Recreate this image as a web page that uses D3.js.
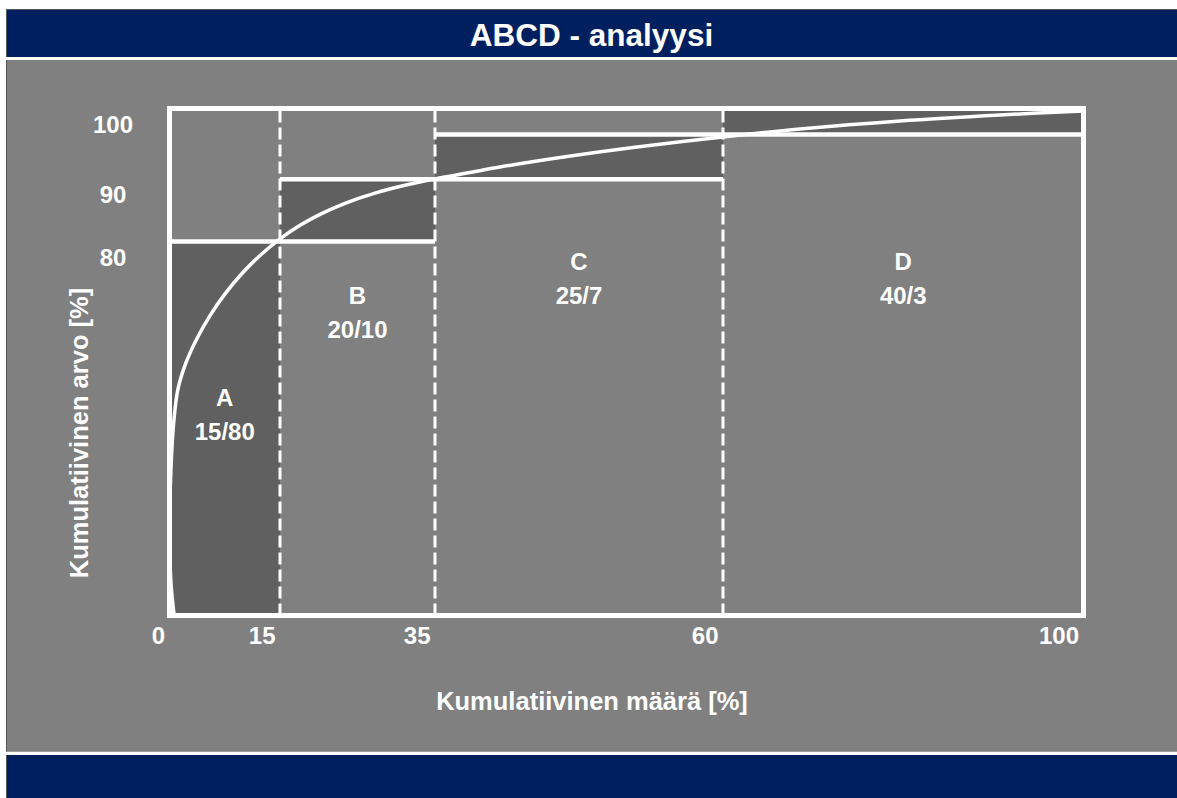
<!DOCTYPE html>
<html lang="fi">
<head>
<meta charset="utf-8">
<title>ABCD - analyysi</title>
<script src="https://cdn.jsdelivr.net/npm/d3@7"></script>
<style>
  html, body { margin: 0; padding: 0; background: #ffffff; }
  svg { display: block; }
  text { font-family: "Liberation Sans", Arial, Helvetica, sans-serif; font-weight: bold; fill: #ffffff; }
</style>
</head>
<body>
<div id="chart"></div>
<script>
// ABC(D) classes: share of items and share of value, in percent
const categories = ["A", "B", "C", "D"];
const itemShare  = [15, 20, 25, 40];
const valueShare = [80, 10, 7, 3];

// Axis tick labels
const xTicks = [0, 15, 35, 60, 100];
const yTicks = [80, 90, 100];

// Cumulative value curve (cumulative item % -> cumulative value %)
const curveItems = [0.61, 0.2, 0, 0.14, 0.54, 1.15, 2.24, 3.73, 5.5, 7.53, 9.84, 12.29, 15,
                    17.58, 20.16, 23.39, 27.26, 31.13, 35, 38.04, 40.64, 46.46, 52.19, 60,
                    68.54, 79.64, 90.74, 100];
const curveValue = [0.32, 6.95, 18.29, 28.98, 40.75, 48.45, 54.07, 59.25, 64.13, 68.79, 73.16, 77.01, 80.42,
                    82.6, 84.37, 86.14, 87.78, 89.04, 90.05, 91.06, 91.92, 93.56, 94.97, 96.61,
                    97.63, 98.56, 99.25, 99.71];

const W = 1177, H = 798;
const NAVY = "#001f5f", GREY = "#808080", DARK = "#606060", WHITE = "#ffffff";

const cumItems = [0, ...d3.cumsum(itemShare)];
const cumValue = [0, ...d3.cumsum(valueShare)];

// Piecewise scales: each class boundary has its own position on the frame
const x = d3.scaleLinear().domain(cumItems).range([169.5, 280, 435, 723, 1083.5]);
const y = d3.scaleLinear().domain(cumValue).range([615.5, 241.5, 179.3, 134.5, 108.5]);

const svg = d3.select("#chart").append("svg")
  .attr("width", W).attr("height", H)
  .attr("viewBox", `0 0 ${W} ${H}`);

// Slide frame: title bar, panel and footer bar
svg.append("rect").attr("x", 6).attr("y", 9).attr("width", W - 6).attr("height", H - 9).attr("fill", "#555555");
svg.append("rect").attr("x", 7).attr("y", 10).attr("width", W - 7).attr("height", 47).attr("fill", NAVY);
svg.append("rect").attr("x", 6).attr("y", 57).attr("width", W - 6).attr("height", 3).attr("fill", WHITE);
svg.append("rect").attr("x", 7).attr("y", 60).attr("width", W - 7).attr("height", 691.7).attr("fill", GREY);
svg.append("rect").attr("x", 6).attr("y", 751.7).attr("width", W - 6).attr("height", 3.3).attr("fill", WHITE);
svg.append("rect").attr("x", 7).attr("y", 755).attr("width", W - 7).attr("height", H - 755).attr("fill", NAVY);

svg.append("text")
  .attr("x", 591.5).attr("y", 45.5)
  .attr("text-anchor", "middle")
  .style("font-size", "31.5px")
  .text("ABCD - analyysi");

const classes = categories.map((c, i) => ({
  name: c,
  items: itemShare[i],
  value: valueShare[i],
  x0: cumItems[i], x1: cumItems[i + 1],
  v0: cumValue[i], v1: cumValue[i + 1],
  xEnd: cumItems[Math.min(i + 2, cumItems.length - 1)]
}));

// Dark class blocks
svg.append("g").selectAll("rect").data(classes).join("rect")
  .attr("x", d => x(d.x0))
  .attr("y", d => y(d.v1))
  .attr("width", d => x(d.x1) - x(d.x0))
  .attr("height", d => y(d.v0) - y(d.v1))
  .attr("fill", DARK);

// Dashed class boundaries
svg.append("g").selectAll("line").data(cumItems.slice(1, -1)).join("line")
  .attr("x1", d => x(d)).attr("x2", d => x(d))
  .attr("y1", y(0)).attr("y2", y(100))
  .attr("stroke", WHITE).attr("stroke-width", 3)
  .attr("stroke-dasharray", "12 5");

// Step levels: each cumulative level runs across its class and the next one
svg.append("g").selectAll("line").data(classes.slice(0, -1)).join("line")
  .attr("x1", d => x(d.x0)).attr("x2", d => x(d.xEnd))
  .attr("y1", d => y(d.v1)).attr("y2", d => y(d.v1))
  .attr("stroke", WHITE).attr("stroke-width", 4.5);

// Plot frame
svg.append("rect")
  .attr("x", x(0)).attr("y", y(100))
  .attr("width", x(100) - x(0)).attr("height", y(0) - y(100))
  .attr("fill", "none").attr("stroke", WHITE).attr("stroke-width", 5);

// Cumulative curve
const curvePts = curveItems.map((v, i) => [v, curveValue[i]]);
svg.append("path")
  .datum(curvePts)
  .attr("d", d3.line().x(d => x(d[0])).y(d => y(d[1])).curve(d3.curveCatmullRom.alpha(0.5)))
  .attr("fill", "none").attr("stroke", WHITE).attr("stroke-width", 3.5)
  .attr("stroke-linecap", "round");

// Class labels
const labelTop = { A: 397, B: 295.3, C: 261.7, D: 261.7 };
const lbl = svg.append("g").selectAll("text").data(classes).join("text")
  .attr("text-anchor", "middle")
  .style("font-size", "24px");
lbl.append("tspan")
  .attr("x", d => (x(d.x0) + x(d.x1)) / 2)
  .attr("y", d => labelTop[d.name] + 8.6)
  .text(d => d.name);
lbl.append("tspan")
  .attr("x", d => (x(d.x0) + x(d.x1)) / 2)
  .attr("y", d => labelTop[d.name] + 8.6 + 34)
  .text(d => `${d.items}/${d.value}`);

// X axis
const gx = svg.append("g")
  .attr("transform", `translate(0,${y(0)})`)
  .call(d3.axisBottom(x).tickValues(xTicks).tickSize(0).tickFormat(d3.format("d")));
gx.select(".domain").remove();
gx.selectAll("text")
  .attr("fill", WHITE)
  .attr("text-anchor", "end")
  .attr("dx", -5)
  .attr("y", 28)
  .attr("dy", 0)
  .style("font-size", "24px")
  .style("font-family", null);

// Y axis
const gy = svg.append("g")
  .attr("transform", `translate(${x(0)},0)`)
  .call(d3.axisLeft(y).tickValues(yTicks).tickSize(0).tickFormat(d3.format("d")));
gy.select(".domain").remove();
gy.selectAll("text")
  .attr("fill", WHITE)
  .attr("text-anchor", "middle")
  .attr("x", 113 - 169.5)
  .attr("dy", 23.5)
  .style("font-size", "24px")
  .style("font-family", null);

// Axis titles
svg.append("text")
  .attr("x", 592).attr("y", 710)
  .attr("text-anchor", "middle")
  .style("font-size", "25.5px")
  .text("Kumulatiivinen määrä [%]");

svg.append("text")
  .attr("transform", "translate(87.5,433) rotate(-90)")
  .attr("text-anchor", "middle")
  .style("font-size", "25.5px")
  .text("Kumulatiivinen arvo [%]");
</script>
</body>
</html>
